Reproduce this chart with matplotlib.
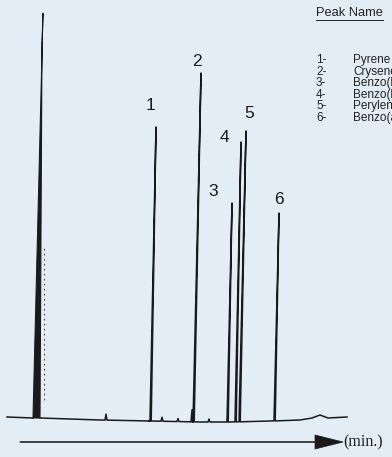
import matplotlib.pyplot as plt
import numpy as np

# chromatogram data (x = retention position, y = detector signal)
base_x = [7, 33, 45, 100, 150, 200, 230, 270, 300, 312, 320, 328, 347]
base_y = [3, 2, 2, 0, -1, -2, -2, -1, 0, 2, 5, 2, 3]

peak_num = ['1', '2', '3', '4', '5', '6']
peak_rt = [156, 201, 232, 241, 246, 279]
peak_h = [293, 347, 217, 278, 289, 207]
peak_lean = [6, 8, 5, 6, 7, 5]
label_xy = [(151, 315), (197, 358), (213, 228), (224, 283), (249, 307), (279, 220)]

minor_rt = [106, 162, 178, 192, 209]
minor_h = [6, 4, 3, 12, 3]

solvent_rt = 43
solvent_h = 407

peak_names = ['Pyrene', 'Crysene', 'Benzo(b)fluoranthene',
              'Benzo(k)fluoranthene', 'Perylene', 'Benzo(a)pyrene']

bg = '#e3edf6'
ink = '#1a1a1a'

fig = plt.figure(figsize=(3.92, 4.57), dpi=100, facecolor=bg)
ax = fig.add_axes([0, 0, 1, 1])
ax.set_facecolor(bg)
ax.set_xlim(0, 392)
ax.set_ylim(-37, 420)
ax.axis('off')


def base_at(x):
    return float(np.interp(x, base_x, base_y))


# baseline + peaks as one trace, each event keeps its own point order
events = [(x, [(x, base_at(x))]) for x in base_x if x not in (33, 45)]
for rt, h, ln in zip(peak_rt, peak_h, peak_lean):
    s = rt - ln
    events.append((s, [(s - 1, base_at(s)), (s, base_at(s)), (rt, h),
                       (s + 1.2, base_at(s)), (s + 2.5, base_at(s))]))
for rt, h in zip(minor_rt, minor_h):
    events.append((rt, [(rt - 1, base_at(rt)), (rt, base_at(rt) + h), (rt + 1, base_at(rt))]))
events.sort(key=lambda e: e[0])
tx = [p[0] for e in events for p in e[1]]
ty = [p[1] for e in events for p in e[1]]
ax.plot(tx[:1] + [solvent_rt - 10], ty[:1] + [base_at(solvent_rt - 10)], color=ink, lw=1.1)
ax.plot([solvent_rt - 3] + tx[1:], [base_at(solvent_rt)] + ty[1:], color=ink, lw=1.1)

# solvent peak
sb = base_at(solvent_rt)
ax.fill([solvent_rt - 10, solvent_rt, solvent_rt - 1, solvent_rt - 3],
        [sb, solvent_h, solvent_h - 30, sb], color=ink, lw=0.8)
ax.plot([solvent_rt + 1, solvent_rt + 1], [20, 173], color=ink, lw=0.6, ls=(0, (2, 4)))

for (lx, ly), n in zip(label_xy, peak_num):
    ax.text(lx, ly, n, ha='center', va='center', fontsize=12.5, color=ink,
            family=['Liberation Sans Narrow', 'Liberation Sans', 'DejaVu Sans'])

# time arrow
ax.arrow(20, -22, 323, 0, width=0.6, head_width=14, head_length=28,
         length_includes_head=True, fc=ink, ec=ink, lw=0.5)
ax.text(343, -22, '(min.)', ha='left', va='center', fontsize=11.5, color=ink,
        family=['Liberation Serif', 'DejaVu Serif'])

# legend of peak names (clipped at the right edge as in the source)
fs = 8.5
ax.text(316, 407, 'Peak Name', ha='left', va='center', fontsize=9.3, color='#222222',
        family=['Liberation Sans', 'DejaVu Sans'])
ax.plot([316, 383], [400, 400], color='#222222', lw=0.7)
for i, (n, name) in enumerate(zip(peak_num, peak_names)):
    y = 360 - i * 11.6
    ax.text(316, y, n + '-', ha='left', va='center', fontsize=fs, color='#222222',
            family=['Liberation Sans', 'DejaVu Sans'])
    ax.text(353, y, name, ha='left', va='center', fontsize=fs, color='#222222',
            family=['Liberation Sans', 'DejaVu Sans'])

fig.savefig('out.png', dpi=100, facecolor=bg)
